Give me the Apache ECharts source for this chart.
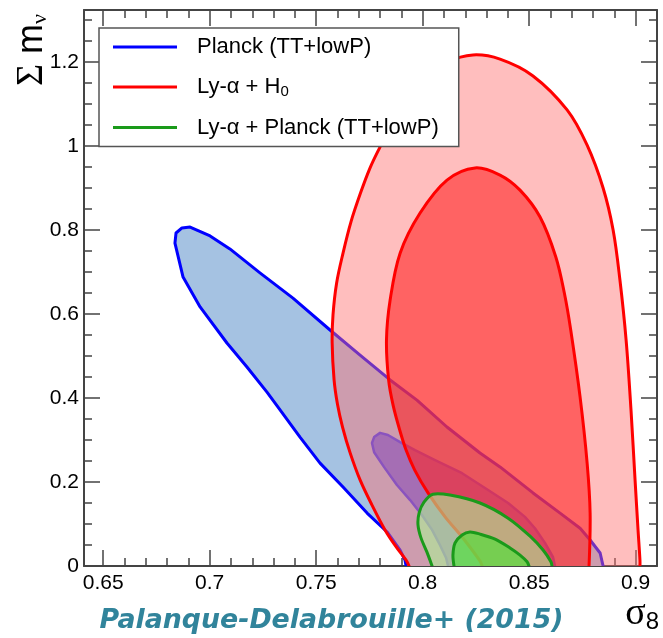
<!DOCTYPE html>
<html>
<head>
<meta charset="utf-8">
<script src="https://cdn.jsdelivr.net/npm/echarts@6/dist/echarts.min.js"></script>
<style>
  html, body { margin: 0; padding: 0; background: #ffffff; }
  #chart { width: 663px; height: 638px; }
</style>
</head>
<body>
<div id="chart"></div>
<script>
// Axis extents and tick labels
const xRange = [0.641, 0.91];
const yRange = [0, 1.324];
const xMajorTicks = [0.65, 0.7, 0.75, 0.8, 0.85, 0.9];
const yMajorTicks = [0, 0.2, 0.4, 0.6, 0.8, 1, 1.2];
const xMinorStep = 0.01;
const yMinorStep = 0.05;

// Legend names
const namePlanck = 'Planck (TT+lowP)';
const nameLyaH0 = 'Ly-α + H0';
const nameLyaPlanck = 'Ly-α + Planck (TT+lowP)';

// Contours in (sigma_8, sum m_nu); each runs from one end on the m_nu = 0 edge to the other
const planck95 = [
  [0.8847, 0], [0.8833, 0.031], [0.8786, 0.062], [0.8739, 0.090], [0.8645, 0.126],
  [0.8518, 0.174], [0.8363, 0.236], [0.8269, 0.269], [0.8114, 0.331], [0.7973, 0.395],
  [0.7847, 0.443], [0.7706, 0.502], [0.7565, 0.562], [0.7391, 0.638], [0.7236, 0.698],
  [0.7095, 0.755], [0.7002, 0.786], [0.6908, 0.807], [0.6870, 0.805], [0.6842, 0.793],
  [0.6837, 0.769], [0.6875, 0.688], [0.6955, 0.617], [0.7081, 0.531], [0.7175, 0.474],
  [0.7269, 0.414], [0.7320, 0.379], [0.7424, 0.307], [0.7518, 0.245], [0.7626, 0.188],
  [0.7739, 0.126], [0.7833, 0.081], [0.7894, 0.038], [0.7917, 0.014], [0.7922, 0]
];
const planck68 = [
  [0.8621, 0], [0.8612, 0.021], [0.8574, 0.055], [0.8527, 0.090], [0.8480, 0.117],
  [0.8401, 0.150], [0.8307, 0.181], [0.8185, 0.221], [0.8058, 0.252], [0.7964, 0.276],
  [0.7894, 0.295], [0.7837, 0.312], [0.7800, 0.317], [0.7772, 0.307], [0.7762, 0.293],
  [0.7772, 0.271], [0.7818, 0.236], [0.7879, 0.193], [0.7941, 0.157], [0.7997, 0.121],
  [0.8044, 0.086], [0.8081, 0.050], [0.8110, 0.019], [0.8119, 0]
];
const lyaH0_95 = [
  [0.7936, 0], [0.7922, 0.014], [0.7879, 0.043], [0.7823, 0.086], [0.7762, 0.145],
  [0.7706, 0.205], [0.7659, 0.270], [0.7624, 0.330], [0.7600, 0.385], [0.7584, 0.443],
  [0.7575, 0.531], [0.7579, 0.598], [0.7596, 0.674], [0.7626, 0.745], [0.7663, 0.819],
  [0.7708, 0.888], [0.7753, 0.948], [0.7800, 0.998], [0.7852, 1.050], [0.7920, 1.110],
  [0.8011, 1.164], [0.8114, 1.200], [0.8236, 1.217], [0.8363, 1.207], [0.8518, 1.167],
  [0.8678, 1.086], [0.8772, 1.002], [0.8847, 0.900], [0.8894, 0.800], [0.8926, 0.681],
  [0.8955, 0.538], [0.8978, 0.371], [0.8997, 0.205], [0.9011, 0.086], [0.9020, 0.014],
  [0.9020, 0]
];
const lyaH0_68 = [
  [0.8279, 0], [0.8269, 0.012], [0.8185, 0.069], [0.8105, 0.117], [0.8025, 0.174],
  [0.7962, 0.229], [0.7922, 0.276], [0.7892, 0.324], [0.7861, 0.383], [0.7840, 0.443],
  [0.7830, 0.538], [0.7847, 0.633], [0.7894, 0.745], [0.7987, 0.840], [0.8114, 0.919],
  [0.8246, 0.948], [0.8363, 0.931], [0.8457, 0.895], [0.8551, 0.831], [0.8625, 0.736],
  [0.8665, 0.650], [0.8695, 0.562], [0.8739, 0.402], [0.8772, 0.245], [0.8786, 0.126],
  [0.8781, 0]
];
const lyaPlanck95 = [
  [0.8044, 0], [0.8020, 0.033], [0.7992, 0.067], [0.7978, 0.098], [0.7983, 0.126],
  [0.8006, 0.152], [0.8048, 0.171], [0.8128, 0.169], [0.8269, 0.150], [0.8401, 0.114],
  [0.8504, 0.071], [0.8565, 0.038], [0.8602, 0.010], [0.8607, 0]
];
const lyaPlanck68 = [
  [0.8147, 0], [0.8142, 0.026], [0.8152, 0.055], [0.8185, 0.074], [0.8222, 0.081],
  [0.8269, 0.076], [0.8340, 0.064], [0.8410, 0.043], [0.8457, 0.026], [0.8490, 0.010],
  [0.8499, 0]
];

function stepTicks(from, to, step) {
  const out = [];
  const n = Math.round((to - from) / step);
  for (let i = 0; i <= n; i++) out.push(+(from + i * step).toFixed(4));
  return out;
}
const xMinorTicks = stepTicks(0.65, 0.90, xMinorStep);
const yMinorTicks = stepTicks(0, 1.30, yMinorStep);

const FRAME = '#444444';
const LABEL_FONT = 'Liberation Sans';

// A filled contour region with its outline; the fill is closed just below the
// m_nu = 0 edge so that the grid clip trims it exactly at the axis.
function contour(name, pts, fill, stroke, lineWidth, smooth) {
  return {
    type: 'custom',
    name: name,
    coordinateSystem: 'cartesian2d',
    xAxisIndex: 0,
    yAxisIndex: 0,
    clip: true,
    silent: true,
    data: pts,
    encode: { x: 0, y: 1 },
    itemStyle: { color: stroke },
    renderItem: function (params, api) {
      if (params.dataIndex !== 0) return null;
      const line = pts.map(p => api.coord(p));
      const first = pts[0], last = pts[pts.length - 1];
      const area = line.concat([api.coord([last[0], -0.03]), api.coord([first[0], -0.03])]);
      return {
        type: 'group',
        children: [
          { type: 'polygon', shape: { points: area, smooth: smooth }, style: { fill: fill, stroke: null } },
          { type: 'polyline', shape: { points: line, smooth: smooth },
            style: { fill: null, stroke: stroke, lineWidth: lineWidth, lineJoin: 'round', lineCap: 'round' } }
        ]
      };
    }
  };
}

function xAxisDef(position, ticks, len, labels, line) {
  return {
    type: 'value', position: position, min: xRange[0], max: xRange[1],
    axisLine: { show: line, onZero: false, lineStyle: { color: FRAME, width: 2 } },
    axisTick: { show: true, inside: true, length: len, customValues: ticks, lineStyle: { color: FRAME, width: 1.5 } },
    axisLabel: labels ? { show: true, customValues: ticks, margin: 7, color: '#000', fontSize: 21, fontFamily: LABEL_FONT }
                      : { show: false },
    splitLine: { show: false }
  };
}
function yAxisDef(position, ticks, len, labels, line) {
  return {
    type: 'value', position: position, min: yRange[0], max: yRange[1],
    axisLine: { show: line, onZero: false, lineStyle: { color: FRAME, width: 2 } },
    axisTick: { show: true, inside: true, length: len, customValues: ticks, lineStyle: { color: FRAME, width: 1.5 } },
    axisLabel: labels ? { show: true, customValues: ticks, margin: 5, color: '#000', fontSize: 21, fontFamily: LABEL_FONT }
                      : { show: false },
    splitLine: { show: false }
  };
}

const chart = echarts.init(document.getElementById('chart'), null, { renderer: 'canvas' });

chart.setOption({
  animation: false,
  backgroundColor: '#ffffff',
  grid: { left: 84, right: 6, top: 10, bottom: 72, containLabel: false },
  title: {
    text: 'Palanque-Delabrouille+ (2015)',
    left: 'center',
    top: 603,
    textStyle: { fontFamily: 'DejaVu Sans', fontWeight: 'bold', fontStyle: 'italic', fontSize: 26.8, color: '#31849b' }
  },
  legend: {
    orient: 'vertical',
    left: 99,
    top: 28,
    selectedMode: false,
    icon: 'rect',
    itemWidth: 64,
    itemHeight: 3,
    itemGap: 16,
    padding: [7, 20, 7, 14],
    backgroundColor: '#ffffff',
    borderColor: '#555555',
    borderWidth: 1.5,
    borderRadius: 0,
    data: [
      { name: namePlanck, itemStyle: { color: '#0000ff' } },
      { name: nameLyaH0, itemStyle: { color: '#ff0000' } },
      { name: nameLyaPlanck, itemStyle: { color: '#1a9a1a' } }
    ],
    formatter: function (name) {
      if (name === nameLyaH0) return '{sp| }{t|Ly-α + H}{sub|0}';
      return '{sp| }{t|' + name + '}';
    },
    textStyle: {
      fontFamily: LABEL_FONT, fontSize: 22, color: '#000', lineHeight: 24,
      rich: {
        sp: { width: 15 },
        t: { fontFamily: LABEL_FONT, fontSize: 22, color: '#000', lineHeight: 24 },
        sub: { fontFamily: LABEL_FONT, fontSize: 15, color: '#000', padding: [10, 0, 0, 0] }
      }
    }
  },
  graphic: [
    {
      type: 'text',
      x: 32, y: 50,
      rotation: Math.PI / 2,
      style: {
        text: '{a|Σ}{b| m}{c|ν}',
        align: 'center', verticalAlign: 'middle',
        rich: {
          a: { fontFamily: 'Liberation Serif', fontSize: 38, color: '#000' },
          b: { fontFamily: LABEL_FONT, fontSize: 36, color: '#000' },
          c: { fontFamily: 'Liberation Serif', fontSize: 22, color: '#000', padding: [16, 0, 0, 0] }
        }
      }
    },
    {
      type: 'text',
      x: 659, y: 594,
      style: {
        text: '{s|σ}{n|8}',
        align: 'right', verticalAlign: 'top',
        rich: {
          s: { fontFamily: 'Liberation Serif', fontSize: 38, color: '#000' },
          n: { fontFamily: LABEL_FONT, fontSize: 24, color: '#000', padding: [16, 0, 0, 0] }
        }
      }
    }
  ],
  xAxis: [
    xAxisDef('bottom', xMajorTicks, 16, true, true),
    xAxisDef('bottom', xMinorTicks, 8, false, false),
    xAxisDef('top', xMajorTicks, 16, false, true),
    xAxisDef('top', xMinorTicks, 8, false, false)
  ],
  yAxis: [
    yAxisDef('left', yMajorTicks, 16, true, true),
    yAxisDef('left', yMinorTicks, 8, false, false),
    yAxisDef('right', yMajorTicks, 16, false, true),
    yAxisDef('right', yMinorTicks, 8, false, false)
  ],
  series: [
    contour(namePlanck, planck95, '#a5c2e2', '#0000ff', 3, 0),
    contour('Planck 68%', planck68, '#5b6eed', '#2a3cff', 2.5, 0),
    contour(nameLyaH0, lyaH0_95, 'rgba(255,110,110,0.45)', '#ff0000', 3, 0.35),
    contour('Ly-α + H0 68%', lyaH0_68, 'rgba(255,35,35,0.59)', '#ff0000', 3, 0.35),
    contour(nameLyaPlanck, lyaPlanck95, 'rgba(174,240,150,0.6)', '#1a9a1a', 3, 0.3),
    contour('Ly-α + Planck 68%', lyaPlanck68, 'rgba(70,230,50,0.6)', '#1a9a1a', 3, 0.3)
  ]
});
</script>
</body>
</html>
